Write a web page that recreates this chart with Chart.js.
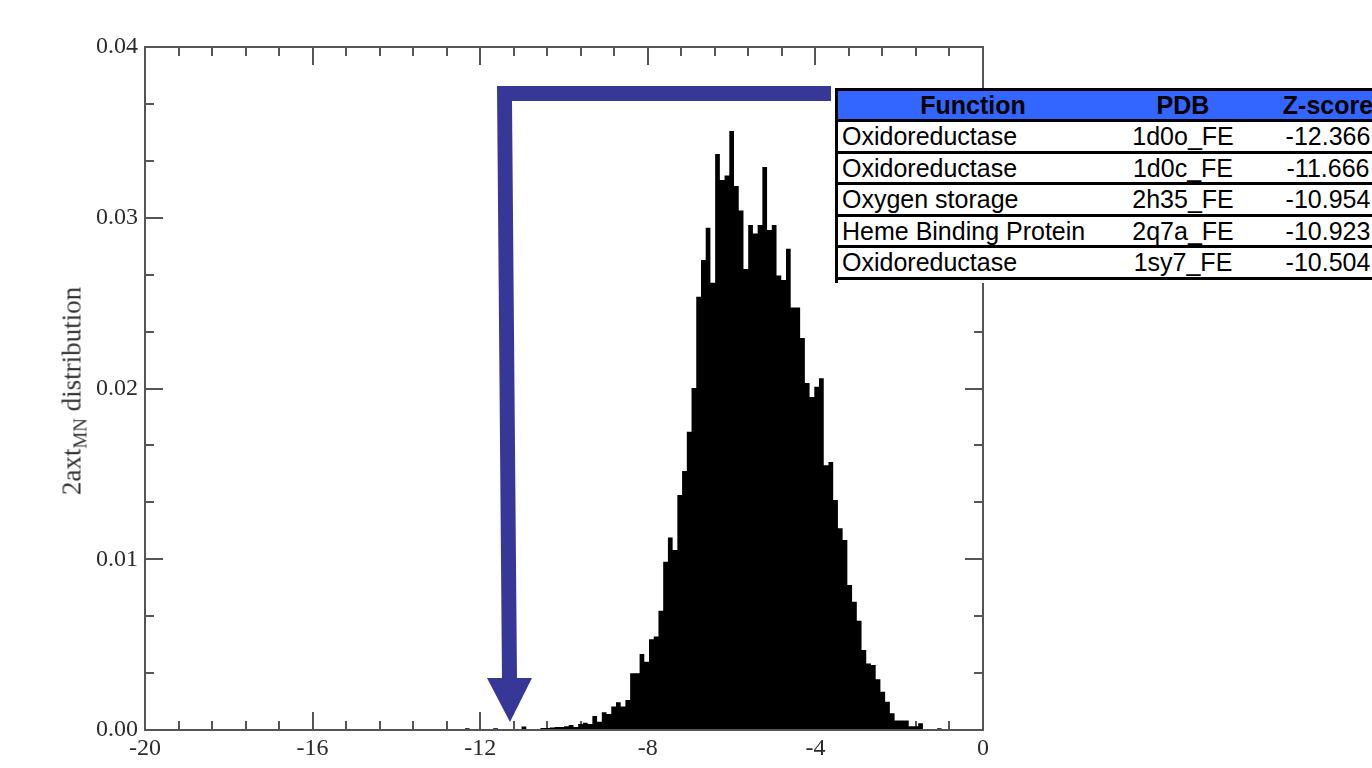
<!DOCTYPE html>
<html>
<head>
<meta charset="utf-8">
<script src="https://cdn.jsdelivr.net/npm/chart.js@4/dist/chart.umd.min.js"></script>
<style>
  html, body { margin: 0; padding: 0; background: #fff; overflow: hidden; }
  #wrap { position: relative; width: 1372px; height: 768px; overflow: hidden; }
  #c { position: absolute; left: 0; top: 0; }
  #ytitle {
    position: absolute; left: 72px; top: 391px;
    transform: translate(-50%, -50%) rotate(-90deg);
    white-space: nowrap;
    font-family: 'Liberation Serif', 'Times New Roman', serif;
    font-size: 27px; color: #333;
  }
  #ytitle sub { font-size: 0.7em; vertical-align: -0.3em; line-height: 0; }
  #tbl {
    position: absolute; left: 835px; top: 88px; width: 563px;
    background: #fff; border-left: 3px solid #000; padding-bottom: 3px;
    font-family: 'Liberation Sans', Arial, sans-serif; font-size: 25px; color: #000;
  }
  #tbl .row { display: flex; height: 28.5px; line-height: 28.5px; border-bottom: 3px solid #000; }
  #tbl .head { background: #3366ff; font-weight: bold; border-top: 3px solid #000; height: 28px; line-height: 28px; }
  #tbl .c1 { width: 270px; padding-left: 4px; box-sizing: border-box; }
  #tbl .c2 { width: 150px; text-align: center; }
  #tbl .c3 { width: 140px; text-align: center; }
  #tbl .head .c1 { text-align: center; padding-left: 0; }
</style>
</head>
<body>
<div id="wrap">
  <canvas id="c" width="1372" height="768"></canvas>
  <div id="ytitle">2axt<sub>MN</sub> distribution</div>
  <div id="tbl"></div>
</div>
<script>
// histogram: 101 bins starting at the lowest Z-score
const BIN_START = -12.366
const BIN_WIDTH = 0.1127
const BIN_VALUES = [
  0.0001, 0, 0, 0, 0, 0, 0.0001, 0, 0, 0,
  0, 0, 0.0002, 0, 0, 0, 0.00012, 0.00012, 0.00015, 0.00018,
  0.00018, 0.00022, 0.0003, 0.00018, 0.00035, 0.00042, 0.00035, 0.00082, 0.00049, 0.00104,
  0.00094, 0.00137, 0.00162, 0.00137, 0.00176, 0.00332, 0.00332, 0.00445, 0.0040, 0.00531,
  0.00547, 0.00699, 0.00986, 0.01128, 0.01054, 0.01376, 0.01517, 0.01747, 0.02003, 0.02538,
  0.02753, 0.02942, 0.0262, 0.03373, 0.03221, 0.03247, 0.03508, 0.03186, 0.03043, 0.027,
  0.02958, 0.02908, 0.02958, 0.03297, 0.02928, 0.02958, 0.02662, 0.02635, 0.02818, 0.02475,
  0.02475, 0.02296, 0.02032, 0.0195, 0.0201, 0.0206, 0.0155, 0.0157, 0.01347, 0.01181,
  0.01113, 0.00849, 0.00751, 0.0064, 0.00469, 0.0039, 0.00381, 0.00297, 0.00224, 0.00166,
  0.00098, 0.00055, 0.00055, 0.00055, 0.00022, 0.00022, 0.0004, 0, 0, 0,
  0.0001,
]

// arrow annotation, in data units
const ARROW_X = [-11.599, -3.628, -3.628, -11.241, -11.122, -10.764, -11.289, -11.838, -11.480]
const ARROW_Y = [0.03772, 0.03772, 0.03684, 0.03684, 0.003045, 0.003045, 0.000469, 0.003045, 0.003045]

// table
const TABLE_HEAD = ['Function', 'PDB', 'Z-score']
const FUNCTIONS  = ['Oxidoreductase', 'Oxidoreductase', 'Oxygen storage', 'Heme Binding Protein', 'Oxidoreductase']
const PDB_IDS    = ['1d0o_FE', '1d0c_FE', '2h35_FE', '2q7a_FE', '1sy7_FE']
const Z_SCORES   = ['-12.366', '-11.666', '-10.954', '-10.923', '-10.504']

const AXIS_COLOR = '#555'
const TEXT_COLOR = '#2b2b2b'
const ARROW_COLOR = '#373797'

// ── table ──
const tbl = document.getElementById('tbl')
const mkRow = (cells, cls) => {
  const r = document.createElement('div')
  r.className = 'row' + (cls ? ' ' + cls : '')
  cells.forEach((t, i) => {
    const c = document.createElement('div')
    c.className = 'c' + (i + 1)
    c.textContent = t
    r.appendChild(c)
  })
  tbl.appendChild(r)
}
mkRow(TABLE_HEAD, 'head')
FUNCTIONS.forEach((f, i) => mkRow([f, PDB_IDS[i], Z_SCORES[i]]))

// ── histogram points for a stepped line ──
const histPoints = [{ x: BIN_START, y: 0 }]
BIN_VALUES.forEach((v, i) => histPoints.push({ x: BIN_START + i * BIN_WIDTH, y: v }))
histPoints.push({ x: BIN_START + BIN_VALUES.length * BIN_WIDTH, y: 0 })

// inward ticks on all four sides + frame, arrow on top
const frameTicks = {
  id: 'frameTicks',
  beforeDatasetsDraw(chart) {
    const { ctx, chartArea: a, scales: { x, y } } = chart
    ctx.save()
    ctx.strokeStyle = AXIS_COLOR
    ctx.lineWidth = 2
    ctx.beginPath()
    for (let i = 0; i <= 25; i++) {
      const px = Math.round(x.getPixelForValue(-20 + i * 0.8))
      const len = i % 5 === 0 ? 18 : 9
      ctx.moveTo(px, a.bottom); ctx.lineTo(px, a.bottom - len)
      ctx.moveTo(px, a.top);    ctx.lineTo(px, a.top + len)
    }
    for (let i = 0; i <= 12; i++) {
      const py = Math.round(y.getPixelForValue(i * 0.01 / 3))
      const len = i % 3 === 0 ? 18 : 9
      ctx.moveTo(a.left, py);  ctx.lineTo(a.left + len, py)
      ctx.moveTo(a.right, py); ctx.lineTo(a.right - len, py)
    }
    ctx.stroke()
    ctx.restore()
  },
  afterDatasetsDraw(chart) {
    const { ctx, chartArea: a, scales: { x, y } } = chart
    ctx.save()
    ctx.strokeStyle = AXIS_COLOR
    ctx.lineWidth = 2
    ctx.strokeRect(a.left, a.top, a.right - a.left, a.bottom - a.top)

    ctx.fillStyle = ARROW_COLOR
    ctx.beginPath()
    ARROW_X.forEach((vx, i) => {
      const px = x.getPixelForValue(vx)
      const py = y.getPixelForValue(ARROW_Y[i])
      if (i === 0) ctx.moveTo(px, py)
      else ctx.lineTo(px, py)
    })
    ctx.closePath()
    ctx.fill()
    ctx.restore()
  },
}

const tickFont = { family: "'Liberation Serif', 'Times New Roman', serif", size: 24 }

new Chart(document.getElementById('c'), {
  type: 'line',
  plugins: [frameTicks],
  data: {
    datasets: [{
      data: histPoints,
      stepped: true,
      fill: 'origin',
      backgroundColor: '#000',
      borderColor: '#000',
      borderWidth: 0,
      pointRadius: 0,
    }],
  },
  options: {
    responsive: false,
    animation: false,
    events: [],
    layout: { padding: { left: 0, top: 47, right: 389, bottom: 0 } },
    plugins: { legend: { display: false }, tooltip: { enabled: false } },
    scales: {
      x: {
        type: 'linear',
        min: -20, max: 0,
        afterFit: s => { s.height = 38 },
        grid: { display: false, drawTicks: false },
        border: { display: false },
        ticks: {
          stepSize: 4, autoSkip: false, maxRotation: 0,
          font: tickFont, color: TEXT_COLOR, padding: 4,
          callback: v => String(v),
        },
      },
      y: {
        min: 0, max: 0.04,
        afterFit: s => { s.width = 145 },
        grid: { display: false, drawTicks: false },
        border: { display: false },
        ticks: {
          stepSize: 0.01,
          font: tickFont, color: TEXT_COLOR, padding: 7,
          callback: v => v.toFixed(2),
        },
      },
    },
  },
})
</script>
</body>
</html>
